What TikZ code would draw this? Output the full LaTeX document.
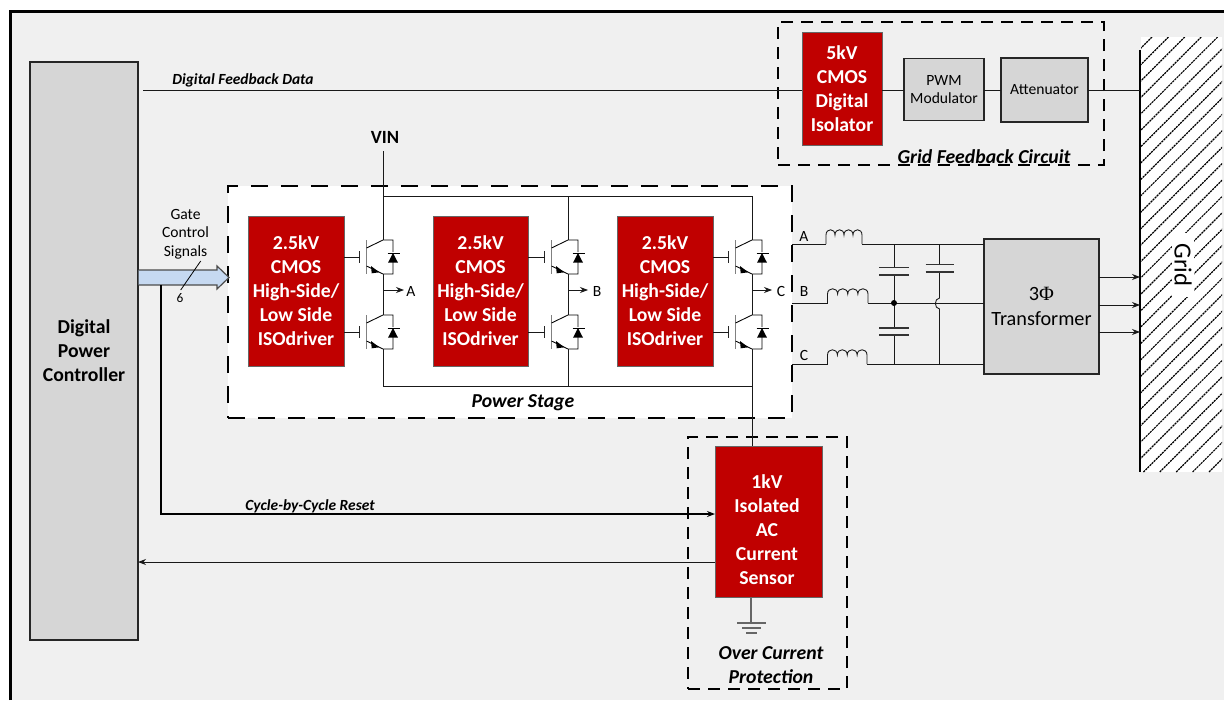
\documentclass[tikz,border=0pt]{standalone}
\usepackage{fontspec}
\setmainfont{Carlito}
\usetikzlibrary{arrows.meta}
\definecolor{bgc}{HTML}{F0F0F0}
\definecolor{redc}{HTML}{C00000}
\definecolor{grayc}{HTML}{D6D6D6}
\definecolor{bluec}{HTML}{C6D9F1}
\tikzset{
  sz/.style 2 args={minimum width=#1*0.75pt,minimum height=#2*0.75pt,inner sep=0pt,outer sep=0pt},
  redbox/.style={draw=black!60,fill=redc,text=white,font=\fontsize{14.8}{18}\selectfont\bfseries,align=center,line width=0.5pt},
  graybox/.style={draw=black!85,fill=grayc,align=center,line width=0.8pt},
  wire/.style={line width=0.65pt,black!90},
  boldwire/.style={line width=0.95pt,black},
  arrowwire/.style={wire,-{Stealth[length=6pt,width=4.5pt]}},
  dashbox/.style={draw=black,line width=0.9pt,dash pattern=on 9pt off 6pt,inner sep=0pt},
  powerbox/.style={draw=black,fill=white,line width=1.9pt,dash pattern=on 13pt off 9.5pt,inner sep=0pt},
  smalltxt/.style={font=\fontsize{11.7}{14}\selectfont,align=center,inner sep=0pt},
  titletxt/.style={font=\fontsize{14.8}{18}\selectfont\bfseries\itshape,align=center,inner sep=0pt},
  wiretxt/.style={font=\fontsize{11.6}{13}\selectfont\bfseries\itshape,inner sep=0pt},
  plate/.style={line width=0.8pt,black!80},
}
\newcommand{\igbt}[3]{% name, x of collector, y of centre
  \begin{scope}[shift={(#2,#3)}]
    \coordinate (#1-c) at (0,-17);
    \coordinate (#1-e) at (0,17);
    \coordinate (#1-g) at (-23.5,0);
    \draw[line width=0.9pt,black!85] (-23.5,-6)--(-23.5,6);
    \draw[line width=1pt,black!50] (-16.5,-17)--(-16.5,17);
    \draw[line width=0.65pt,black] (-16.5,-9)--(0,-17)--(10,-17)--(10,-5);
    \draw[line width=0.65pt,black] (10,5)--(10,17)--(0,17)--(-16.5,9);
    \fill (10,-4) -- (15,5.7) -- (5,5.7) -- cycle;
    \draw[line width=0.65pt] (4.7,-4)--(16.5,-4);
    \fill (-12,9) -- (-3.7,15.3) -- (-11.3,16.3) -- cycle;
  \end{scope}
}
\newcommand{\inductor}[3]{% x0, x1, y
  \pgfmathsetmacro{\ustep}{(#2-#1)/4}
  \pgfmathsetmacro{\ctop}{#3-16}
  \pgfmathsetmacro{\cbase}{#3-9}
  \draw[wire] (#1,#3)--(#1,\cbase)
    \foreach \n in {0,1,2,3}{
      .. controls ({#1+\n*\ustep},\ctop) and ({#1+(\n+1)*\ustep},\ctop) .. ({#1+(\n+1)*\ustep},\cbase)
    } -- (#2,#3);
}
\begin{document}
\begin{tikzpicture}[x=0.75pt,y=-0.75pt]
\useasboundingbox (0,0) rectangle (1224,700);
% background and frame
\fill[white] (0,0) rectangle (1224,700);
\fill[bgc] (10.5,11.5) rectangle (1224,700);
\draw[line width=1.9pt,black] (10.5,700)--(10.5,11.5)--(1224,11.5);

% grid hatch
\fill[white] (1141,37) rectangle (1222,472);
\begin{scope}
  \clip (1141,37) rectangle (1222,472);
  \foreach \k in {0,...,33}{
    \pgfmathsetmacro{\xa}{1152+16.4*\k}
    \pgfmathsetmacro{\xb}{\xa-435}
    \draw[line width=0.9pt,black,dash pattern=on 1.6pt off 0.6pt] (\xa,37)--(\xb,472);
  }
\end{scope}
\coordinate (gridtop) at (1140,50);
\coordinate (gridbot) at (1140,472);
\draw[line width=2pt,black] (gridtop)--(gridbot);
\node[fill=white,inner xsep=8pt,inner ysep=2pt,rotate=-90,font=\fontsize{18.5}{20}\selectfont] (gridlbl) at (1183,265) {Grid};

% dashed groups
\node[dashbox,sz={326}{143}] (fbgroup) at (941,93.5) {};
\node[powerbox,sz={564}{232}] (pwrgroup) at (510,302) {};
\node[dashbox,sz={159}{252}] (ocgroup) at (767.5,563) {};

% main boxes
\node[graybox,sz={108}{578},font=\fontsize{14.8}{18}\selectfont\bfseries] (ctrl) at (84,351) {Digital\\Power\\Controller};
\node[redbox,sz={80}{113}] (iso) at (842,88.5) {5kV\\CMOS\\Digital\\Isolator};
\node[graybox,sz={80}{62},smalltxt] (pwm) at (944,89.5) {PWM\\Modulator};
\node[graybox,sz={87}{64},smalltxt] (atten) at (1044.5,90) {Attenuator};
\node[graybox,sz={115}{135},font=\fontsize{15.2}{19}\selectfont] (xfmr) at (1041.5,306.5) {3{\fontspec{Liberation Serif}Φ}\\Transformer};
\node[redbox,sz={96}{150}] (drva) at (296,291) {2.5kV\\CMOS\\High-Side/\\Low Side\\ISOdriver};
\node[redbox,sz={95}{150}] (drvb) at (480.5,291) {2.5kV\\CMOS\\High-Side/\\Low Side\\ISOdriver};
\node[redbox,sz={96}{150}] (drvc) at (665,291) {2.5kV\\CMOS\\High-Side/\\Low Side\\ISOdriver};
\node[redbox,sz={107}{151}] (sens) at (768.5,521.5) {};
\node[redbox,draw=none,fill=none,inner sep=0pt] (senstxt) at (767,530) {1kV\\Isolated\\AC\\Current\\Sensor};

% feedback wire
\coordinate (fbstart) at (143,90);
\draw[wire] (fbstart)--(iso.west|-fbstart);
\draw[wire] (iso.east|-fbstart)--(pwm.west|-fbstart);
\draw[wire] (pwm.east|-fbstart)--(atten.west|-fbstart);
\draw[wire] (atten.east|-fbstart)--(gridtop|-fbstart);
\node[wiretxt,anchor=west] (fblbl) at (172,80.5) {Digital Feedback Data};

% transistors
\igbt{qah}{383}{257}\igbt{qal}{383}{332}
\igbt{qbh}{568}{257}\igbt{qbl}{568}{332}
\igbt{qch}{752}{257}\igbt{qcl}{752}{332}
\foreach \q/\d in {qah/drva,qal/drva,qbh/drvb,qbl/drvb,qch/drvc,qcl/drvc}{
  \draw[wire] (\d.east|-\q-g)--(\q-g);
}
\foreach \t/\b in {qah/qal,qbh/qbl,qch/qcl}{
  \draw[wire] (\t-e)--(\b-c);
}
% rails
\node[font=\fontsize{14}{15}\selectfont\bfseries,inner sep=0pt] (vin) at (385,137) {VIN};
\coordinate (vinw) at (383,151);
\coordinate (railta) at (383,196);
\coordinate (railtb) at (568,196);
\coordinate (railtc) at (752,196);
\coordinate (railba) at (383,386);
\coordinate (railbb) at (568,386);
\coordinate (railbc) at (752,386);
\draw[wire] (vinw)--(qah-c);
\draw[wire] (railta)--(railtc)--(qch-c);
\draw[wire] (railtb)--(qbh-c);
\draw[wire] (qal-e)--(railba)--(railbc);
\draw[wire] (qbl-e)--(railbb);
\draw[wire] (qcl-e)--(sens.north-|qcl-e);
% phase taps
\coordinate (ta) at (383,290);\coordinate (tb) at (568,290);\coordinate (tc) at (752,290);
\node[smalltxt] (la) at (411,291) {A};
\node[smalltxt] (lb) at (597,291) {B};
\node[smalltxt] (lc) at (781,291) {C};
\draw[arrowwire] (ta)--(404,290);
\draw[arrowwire] (tb)--(588,290);
\draw[arrowwire] (tc)--(772,290);
\node[titletxt] (pslbl) at (523,403) {Power Stage};

% filter
\coordinate (pa) at (792,244);\coordinate (pb) at (792,303);\coordinate (pc) at (792,364);
\node[smalltxt] (oa) at (804,236) {A};
\node[smalltxt] (ob) at (804,291) {B};
\node[smalltxt] (oc) at (804,355) {C};
\draw[wire] (pa)--(826,244);
\draw[wire] (pb)--(827.5,303);
\draw[wire] (pc)--(827.5,364);
\inductor{826}{862}{244}
\inductor{827.5}{868}{303}
\inductor{827.5}{867}{364}
\draw[wire] (862,244)--(xfmr.west|-pa);
\draw[wire] (868,303)--(xfmr.west|-pb);
\draw[wire] (867,364)--(xfmr.west|-pc);
\coordinate (cj) at (894,303);
\draw[wire] (cj|-pa)--(894,267.5);
\draw[wire] (894,275)--(894,328);
\draw[wire] (894,335)--(cj|-pc);
\draw[plate] (879,267.5)--(909,267.5) (879,275)--(909,275);
\draw[plate] (879,328)--(909,328) (879,335)--(909,335);
\fill (cj) circle[radius=3];
\coordinate (cx) at (939.5,303);
\draw[wire] (cx|-pa)--(939.5,264.5);
\draw[wire] (939.5,272)--(939.5,298) .. controls (934,298.5) and (934,308.5) .. (939.5,309)--(cx|-pc);
\draw[plate] (925.5,264.5)--(953.5,264.5) (925.5,272)--(953.5,272);
% to grid
\foreach \yy in {277,305,332}{
  \draw[arrowwire] (xfmr.east|-0,\yy)--(gridtop|-0,\yy);
}

% gate bus
\coordinate (bustip) at (229,277.5);
\path[draw=black!70,fill=bluec,line width=0.9pt] (138.5,270)--(217,270)--(217,266)--(bustip)--(217,289)--(217,285)--(138.5,285);
\node[smalltxt] (gatelbl) at (185.5,234) {Gate\\Control\\Signals};
\coordinate (sa) at (200.7,261);\coordinate (sb) at (180.7,290);
\draw[line width=0.6pt,black] (sa)--(sb);
\node[smalltxt,font=\fontsize{10}{11}\selectfont] (six) at (180,298.5) {6};

% reset and sense
\coordinate (rs) at (161,285);
\coordinate (rc) at (161,514);
\draw[boldwire,-{Stealth[length=6pt,width=4.5pt]}] (rs)--(rc)--(sens.west|-rc);
\node[wiretxt,anchor=west] (rstlbl) at (245,506.5) {Cycle-by-Cycle Reset};
\coordinate (sn) at (715,562);
\draw[arrowwire] (sn)--(ctrl.east|-sn);

% ground
\coordinate (gj) at (751,623);
\draw[line width=1pt,black!60] (sens.south-|gj)--(gj);
\draw[line width=1pt,black!60] (737,623)--(766,623) (742,628)--(761,628) (746,633)--(757,633);

% titles
\node[titletxt] (ttlfb) at (984,157) {Grid Feedback Circuit};
\node[titletxt] (ttloc) at (771,665.5) {Over Current\\Protection};
\end{tikzpicture}
\end{document}
